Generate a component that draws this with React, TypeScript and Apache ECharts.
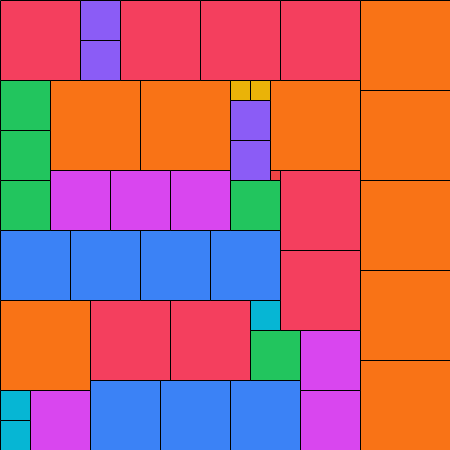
import React, { useEffect, useRef } from "react";
import * as echarts from "echarts";

// Square positions [x, y] (top-left, in the 450x450 board) grouped by size
const squares90 = [[360, 0], [360, 90], [360, 180], [360, 270], [360, 360], [50, 80], [140, 80], [270, 80], [0, 300]];
const squares80 = [[0, 0], [120, 0], [200, 0], [280, 0], [280, 170], [280, 250], [90, 300], [170, 300]];
const squares70 = [[0, 230], [70, 230], [140, 230], [210, 230], [90, 380], [160, 380], [230, 380]];
const squares60 = [[50, 170], [110, 170], [170, 170], [300, 330], [300, 390], [30, 390]];
const squares50 = [[0, 80], [0, 130], [0, 180], [230, 180], [250, 330]];
const squares40 = [[80, 0], [80, 40], [230, 100], [230, 140]];
const squares30 = [[250, 300], [0, 390], [0, 420]];
const squares20 = [[230, 80], [250, 80]];
const squares10 = [[270, 170]];

const groups = [
  { size: 90, color: "#f97316", pts: squares90 },
  { size: 80, color: "#f43f5e", pts: squares80 },
  { size: 70, color: "#3b82f6", pts: squares70 },
  { size: 60, color: "#d946ef", pts: squares60 },
  { size: 50, color: "#22c55e", pts: squares50 },
  { size: 40, color: "#8b5cf6", pts: squares40 },
  { size: 30, color: "#06b6d4", pts: squares30 },
  { size: 20, color: "#eab308", pts: squares20 },
  { size: 10, color: "#ef4444", pts: squares10 },
];

export default function App() {
  const ref = useRef<HTMLDivElement>(null);
  useEffect(() => {
    if (!ref.current) return;
    const chart = echarts.init(ref.current, null, { renderer: "svg" });
    chart.setOption({
      animation: false,
      grid: { left: 0, right: 0, top: 0, bottom: 0 },
      xAxis: { type: "value", min: 0, max: 450, show: false },
      yAxis: { type: "value", min: 0, max: 450, inverse: true, show: false },
      series: groups.map((g) => ({
        type: "custom",
        name: String(g.size),
        data: g.pts.map((p) => [p[0], p[1], g.size]),
        renderItem: (params: any, api: any) => {
          const pt = api.coord([api.value(0), api.value(1)]);
          const sz = api.size([api.value(2), api.value(2)]);
          return {
            type: "rect",
            shape: { x: pt[0] + 0.5, y: pt[1] + 0.5, width: sz[0], height: sz[1] },
            style: { fill: g.color, stroke: "#000", lineWidth: 1 },
          };
        },
      })),
    });
    return () => chart.dispose();
  }, []);
  return (
    <div
      ref={ref}
      style={{ position: "fixed", left: 0, top: 0, width: 450, height: 450 }}
    />
  );
}
